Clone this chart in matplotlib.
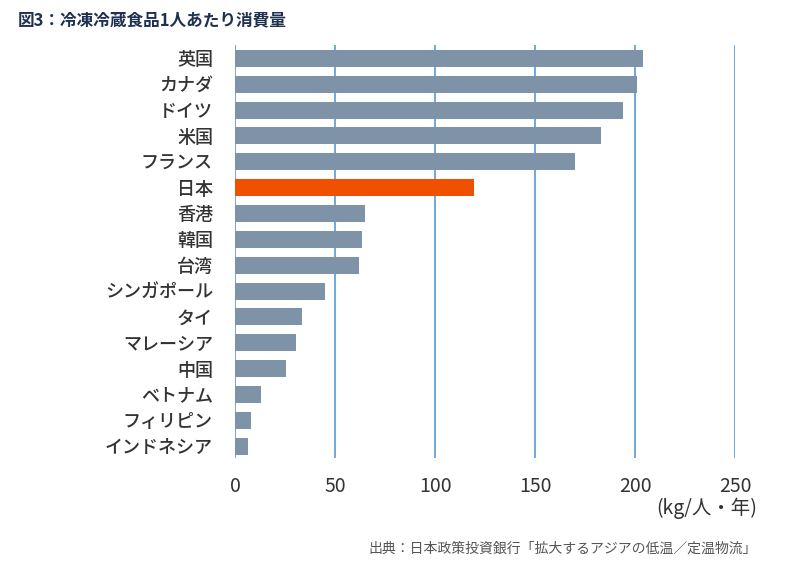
import matplotlib
matplotlib.use('Agg')
import matplotlib.pyplot as plt

plt.rcParams['font.family'] = ['Noto Sans CJK JP', 'DejaVu Sans']

# 冷凍冷蔵食品1人あたり消費量 (kg/人・年)
countries = ['英国', 'カナダ', 'ドイツ', '米国', 'フランス', '日本', '香港', '韓国', '台湾',
             'シンガポール', 'タイ', 'マレーシア', '中国', 'ベトナム', 'フィリピン', 'インドネシア']
values = [203.8, 200.8, 193.7, 182.8, 169.7, 119.3, 65.0, 63.5, 62.0,
          45.0, 33.3, 30.3, 25.2, 12.8, 7.7, 6.2]
highlight = '日本'
ticks = [0, 50, 100, 150, 200, 250]

colors = ['#f05000' if c == highlight else '#7f93a8' for c in countries]

fig = plt.figure(figsize=(8, 5.61), dpi=100)
ax = fig.add_axes([0.294, 0.184, 0.625, 0.735])

ypos = list(range(len(countries)))
ax.barh(ypos, values, height=0.66, color=colors, zorder=3)

ax.set_xlim(0, 250)
ax.set_ylim(len(countries) - 0.55, -0.5)
ax.set_xticks(ticks)
ax.set_xticklabels([str(t) for t in ticks], fontsize=14, color='#333333')
ax.set_yticks(ypos)
ax.set_yticklabels(countries, fontsize=13, color='#333333', fontweight='medium')
ax.tick_params(axis='both', length=0)
ax.tick_params(axis='y', pad=16)
ax.tick_params(axis='x', pad=13)
ax.xaxis.grid(True, color='#6fa8dc', linewidth=1.4, zorder=0)
for s in ax.spines.values():
    s.set_visible(False)

fig.text(0.946, 0.094, '(kg/人・年)', ha='right', va='center', fontsize=14, color='#333333')
fig.text(0.946, 0.021, '出典：日本政策投資銀行「拡大するアジアの低温／定温物流」',
         ha='right', va='center', fontsize=10, color='#555555')
fig.text(0.022, 0.963, '図3：冷凍冷蔵食品1人あたり消費量', ha='left', va='center',
         fontsize=12, fontweight='bold', color='#1f3050')

fig.savefig('out.png', dpi=100)
